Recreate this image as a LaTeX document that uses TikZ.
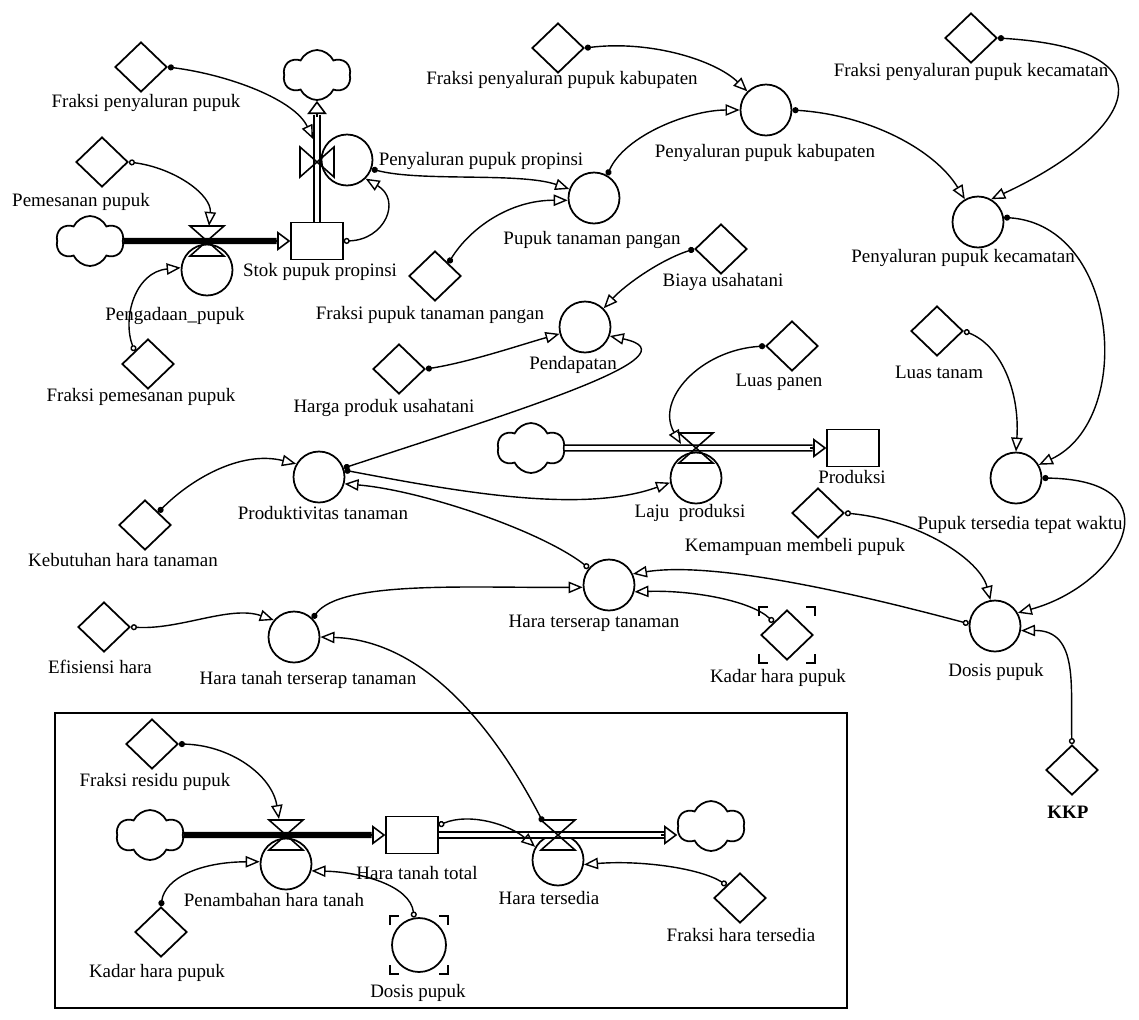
\documentclass[tikz,border=0pt]{standalone}
\usepackage{fontspec}
\setmainfont{Liberation Serif}
\usetikzlibrary{shapes.geometric,shapes.symbols,arrows.meta,calc}
\tikzset{
  hvalve/.pic={\draw[line width=0.9pt] (-17,-15) -- (17,-15) -- (-17,15) -- (17,15) -- cycle;},
  vvalve/.pic={\draw[line width=0.9pt] (-17,-15) -- (-17,15) -- (17,-15) -- (17,15) -- cycle;},
}
\newcommand\ghostmark[2]{%
 \draw[ghost] ($(#1)+(-#2,-#2+9)$) -- ($(#1)+(-#2,-#2)$) -- ($(#1)+(-#2+9,-#2)$);
 \draw[ghost] ($(#1)+(#2-9,-#2)$) -- ($(#1)+(#2,-#2)$) -- ($(#1)+(#2,-#2+9)$);
 \draw[ghost] ($(#1)+(-#2,#2-9)$) -- ($(#1)+(-#2,#2)$) -- ($(#1)+(-#2+9,#2)$);
 \draw[ghost] ($(#1)+(#2-9,#2)$) -- ($(#1)+(#2,#2)$) -- ($(#1)+(#2,#2-9)$);
}
\begin{document}
\begin{tikzpicture}[x=0.02cm,y=-0.02cm,
  every node/.style={inner sep=0pt},
  lbl/.style={font=\fontsize{10.8}{12}\selectfont, inner sep=1pt},
  aux/.style={draw, diamond, line width=1pt, minimum width=1.04cm, minimum height=1.0cm},
  conv/.style={draw, circle, line width=1pt, minimum size=1.02cm},
  stock/.style={draw, rectangle, line width=1pt, minimum width=1.03cm, minimum height=0.74cm},
  src/.style={draw, cloud, cloud puffs=6, cloud puff arc=130, aspect=1.4, line width=1pt, minimum width=1.35cm, minimum height=1.0cm},
  pipe/.style={line width=1pt, double=white, double distance=2.2pt},
  pipethick/.style={line width=3.6pt},
  pipetip/.style={line width=0.9pt, -{Triangle[open, length=7.5pt, width=11pt]}},
  link/.style={line width=0.8pt, {Circle[length=3.5pt]}-{Triangle[open,length=8pt,width=6.5pt]}},
  linko/.style={line width=0.8pt, {Circle[open,length=3.5pt]}-{Triangle[open,length=8pt,width=6.5pt]}},
  ghost/.style={line width=1pt},
]
\fill[white] (0,0) rectangle (1139,1019);
\useasboundingbox (0,0) rectangle (1139,1019);

% frame
\node[draw, line width=1.1pt, minimum width=15.84cm, minimum height=5.9cm] (frame) at (451,860.5) {};

% clouds
\node[src] (cl1) at (317,75) {};
\node[src] (cl2) at (90,241) {};
\node[src] (cl3) at (531,448) {};
\node[src] (cl4) at (150,835) {};
\node[src] (cl5) at (711,826) {};

% stocks
\node[stock] (stok) at (317,241) {};
\node[stock] (prod) at (853,448) {};
\node[stock] (htt) at (412,835) {};

% converters / rates
\node[conv] (pengadaan) at (207,270) {};
\node[conv] (penprop) at (347,160) {};
\node[conv] (pupuktp) at (594,198) {};
\node[conv] (penkab) at (766,110) {};
\node[conv] (penkec) at (978,222) {};
\node[conv] (pendapatan) at (585,327) {};
\node[conv] (produktivitas) at (319,477) {};
\node[conv] (laju) at (696,478) {};
\node[conv] (ptw) at (1016,478) {};
\node[conv] (hts) at (609,585) {};
\node[conv] (htst) at (294,637) {};
\node[conv] (dosis) at (995,626) {};
\node[conv] (penambahan) at (286,864) {};
\node[conv] (haratersedia) at (558,860) {};
\node[conv, minimum size=1.08cm] (dosisg) at (419,945) {};

% auxiliaries
\node[aux] (fpp) at (141,67) {};
\node[aux] (pem) at (102,162) {};
\node[aux] (fpem) at (148,364) {};
\node[aux] (fptp) at (435,276) {};
\node[aux] (fkab) at (558,48) {};
\node[aux] (fkec) at (971,38) {};
\node[aux] (biaya) at (721,249) {};
\node[aux] (harga) at (399,369) {};
\node[aux] (lpanen) at (792,346) {};
\node[aux] (ltanam) at (937,331) {};
\node[aux] (kmp) at (818,513) {};
\node[aux] (kht) at (145,525) {};
\node[aux] (efh) at (104,627) {};
\node[aux] (khp1) at (787,635) {};
\node[aux] (frp) at (152,744) {};
\node[aux] (khp2) at (161,932) {};
\node[aux] (fht) at (740,898) {};
\node[aux] (kkp) at (1072,770) {};

\ghostmark{khp1}{28}
\ghostmark{dosisg}{29}

% valve coordinates
\coordinate (vpeng) at (207,241);
\coordinate (vprop) at (317,162);
\coordinate (vlaju) at (696,448);
\coordinate (vpen) at (286,835);
\coordinate (vht) at (558,835);
\coordinate (vpropin) at (313,139);
\coordinate (vpengin) at (209,226);
\coordinate (vlajuin) at (681,444);
\coordinate (vpenin) at (279,819);
\coordinate (vhtout) at (543,822);
\coordinate (cl5in) at (htt.east -| cl5.west);

% pipes
\draw[pipethick, shorten >=7.8pt] (cl2.east) -- (stok.west);
\draw[pipetip] ($(stok.west)+(-16,0)$) -- (stok.west);
\draw[pipe, shorten >=7.8pt] (stok.north) -- (cl1.south);
\draw[pipetip] ($(cl1.south)+(0,16)$) -- (cl1.south);
\draw[pipe, shorten >=7.8pt] (cl3.east) -- (prod.west);
\draw[pipetip] ($(prod.west)+(-16,0)$) -- (prod.west);
\draw[pipethick, shorten >=7.8pt] (cl4.east) -- (htt.west);
\draw[pipetip] ($(htt.west)+(-16,0)$) -- (htt.west);
\draw[pipe, shorten >=7.8pt] (htt.east) -- (cl5in);
\draw[pipetip] ($(cl5in)+(-16,0)$) -- (cl5in);

% valves
\pic at (vpeng) {hvalve};
\pic at (vprop) {vvalve};
\pic at (vlaju) {hvalve};
\pic at (vpen) {hvalve};
\pic at (vht) {hvalve};

% links
\draw[link] (fpp.east) .. controls (230,75) and (295,100) .. (vpropin);
\draw[linko] (pem.east) .. controls (175,168) and (212,195) .. (vpengin);
\draw[linko] (fpem.north west) .. controls (122,318) and (135,272) .. (pengadaan.175);
\draw[linko] (stok.east) .. controls (385,240) and (402,200) .. (penprop.-45);
\draw[link] (penprop.-20) .. controls (420,182) and (520,172) .. (pupuktp.160);
\draw[link] (fptp.north east) .. controls (470,228) and (510,200) .. (pupuktp.185);
\draw[link] (pupuktp.60) .. controls (625,135) and (690,110) .. (penkab.180);
\draw[link] (fkab.east) .. controls (650,40) and (715,60) .. (penkab.135);
\draw[link] (penkab.east) .. controls (870,115) and (935,150) .. (penkec.120);
\draw[link] (fkec.east) .. controls (1190,50) and (1120,140) .. (penkec.60);
\draw[link] (penkec.10) .. controls (1120,225) and (1135,420) .. (ptw.30);
\draw[linko] (ltanam.east) .. controls (1000,345) and (1020,390) .. (ptw.north);
\draw[link] (ptw.east) .. controls (1180,480) and (1120,585) .. (dosis.30);
\draw[linko] (kmp.east) .. controls (920,520) and (980,560) .. (dosis.100);
\draw[linko] (kkp.north) .. controls (1070,690) and (1080,630) .. (dosis.-10);
\draw[linko] (dosis.175) .. controls (880,600) and (720,560) .. (hts.25);
\draw[linko] (khp1.north west) .. controls (750,600) and (690,590) .. (hts.-15);
\draw[link] (htst.45) .. controls (340,580) and (470,588) .. (hts.185);
\draw[linko] (hts.140) .. controls (540,530) and (420,490) .. (produktivitas.-15);
\draw[link] (produktivitas.15) .. controls (450,490) and (580,515) .. (laju.190);
\draw[link] (produktivitas.20) .. controls (520,410) and (700,355) .. (pendapatan.-20);
\draw[link] (harga.east) .. controls (470,362) and (520,345) .. (pendapatan.195);
\draw[link] (biaya.west) .. controls (660,260) and (625,285) .. (pendapatan.45);
\draw[link] (lpanen.west) .. controls (700,350) and (655,400) .. (vlajuin);
\draw[link] (kht.north east) .. controls (190,480) and (240,450) .. (produktivitas.150);
\draw[linko] (efh.east) .. controls (180,630) and (230,605) .. (htst.140);
\draw[link] (vhtout) .. controls (490,720) and (420,640) .. (htst.0);
\draw[link] (frp.east) .. controls (230,745) and (272,775) .. (vpenin);
\draw[link] (khp2.north) .. controls (165,878) and (200,862) .. (penambahan.175);
\draw[linko] (dosisg.100) .. controls (410,885) and (360,872) .. (penambahan.-15);
\draw[linko] (fht.north west) .. controls (700,868) and (640,860) .. (haratersedia.-10);
\draw[linko] (htt.20) .. controls (470,812) and (510,825) .. (haratersedia.150);

% labels
\node[lbl] (t-fpp) at (146,103) {Fraksi penyaluran pupuk};
\node[lbl] (t-pem) at (81,202) {Pemesanan pupuk};
\node[lbl] (t-fpem) at (141,397) {Fraksi pemesanan pupuk};
\node[lbl] (t-fptp) at (430,315) {Fraksi pupuk tanaman pangan};
\node[lbl] (t-fkab) at (562,80) {Fraksi penyaluran pupuk kabupaten};
\node[lbl] (t-fkec) at (971,72) {Fraksi penyaluran pupuk kecamatan};
\node[lbl] (t-biaya) at (723,282) {Biaya usahatani};
\node[lbl] (t-harga) at (384,408) {Harga produk usahatani};
\node[lbl] (t-lpanen) at (779,382) {Luas panen};
\node[lbl] (t-ltanam) at (939,372) {Luas tanam};
\node[lbl] (t-kmp) at (795,547) {Kemampuan membeli pupuk};
\node[lbl] (t-kht) at (123,560) {Kebutuhan hara tanaman};
\node[lbl] (t-efh) at (100,667) {Efisiensi hara};
\node[lbl] (t-khp1) at (778,678) {Kadar hara pupuk};
\node[lbl] (t-frp) at (155,782) {Fraksi residu pupuk};
\node[lbl] (t-khp2) at (157,973) {Kadar hara pupuk};
\node[lbl] (t-dosisg) at (418,993) {Dosis pupuk};
\node[lbl] (t-fht) at (741,935) {Fraksi hara tersedia};
\node[lbl, font=\fontsize{10.8}{12}\selectfont\bfseries] (t-kkp) at (1068,812) {KKP};
\node[lbl] (t-pengadaan) at (175,316) {Pengadaan\_pupuk};
\node[lbl] (t-penprop) at (481,161) {Penyaluran pupuk propinsi};
\node[lbl] (t-pupuktp) at (592,240) {Pupuk tanaman pangan};
\node[lbl] (t-penkab) at (765,153) {Penyaluran pupuk kabupaten};
\node[lbl] (t-penkec) at (963,258) {Penyaluran pupuk kecamatan};
\node[lbl] (t-pendapatan) at (573,365) {Pendapatan};
\node[lbl] (t-produktivitas) at (323,513) {Produktivitas tanaman};
\node[lbl] (t-laju) at (690,513) {Laju\ \ produksi};
\node[lbl] (t-ptw) at (1020,525) {Pupuk tersedia tepat waktu};
\node[lbl] (t-hts) at (594,623) {Hara terserap tanaman};
\node[lbl] (t-htst) at (308,680) {Hara tanah terserap tanaman};
\node[lbl] (t-dosis) at (996,672) {Dosis pupuk};
\node[lbl] (t-penambahan) at (274,900) {Penambahan hara tanah};
\node[lbl] (t-haratersedia) at (549,898) {Hara tersedia};
\node[lbl] (t-stok) at (320,272) {Stok pupuk propinsi};
\node[lbl] (t-prod) at (852,477) {Produksi};
\node[lbl] (t-htt) at (417,873) {Hara tanah total};
\end{tikzpicture}
\end{document}
